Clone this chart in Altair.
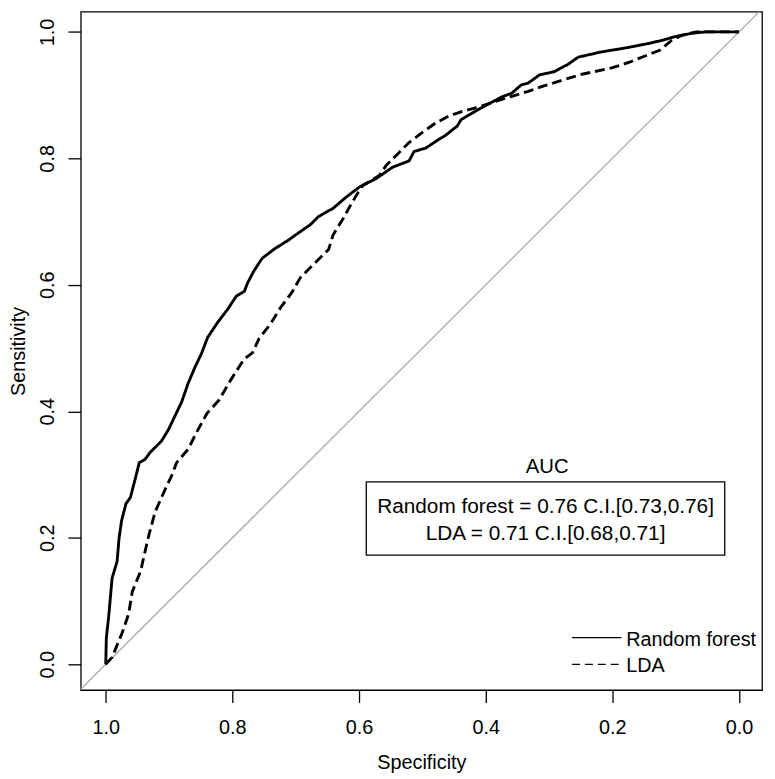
import altair as alt
import pandas as pd

FONT = "Liberation Sans"

# ---------------- data ----------------
models = ["Random forest", "LDA"]

rf_spec = [1.000, 0.999, 0.995, 0.990, 0.982, 0.979, 0.975, 0.968, 0.961, 0.953,
           0.947, 0.938, 0.930, 0.912, 0.901, 0.891, 0.880, 0.870, 0.859, 0.849,
           0.839, 0.823, 0.807, 0.794, 0.781, 0.776, 0.766, 0.753, 0.732, 0.714,
           0.693, 0.677, 0.664, 0.641, 0.620, 0.599, 0.573, 0.547, 0.521, 0.513,
           0.495, 0.474, 0.464, 0.445, 0.439, 0.412, 0.375, 0.359, 0.344, 0.333,
           0.315, 0.292, 0.281, 0.271, 0.254, 0.219, 0.177, 0.141, 0.120, 0.099,
           0.073, 0.052, 0.000]
rf_sens = [0.000, 0.042, 0.079, 0.136, 0.163, 0.199, 0.227, 0.254, 0.264, 0.295,
           0.319, 0.324, 0.335, 0.353, 0.371, 0.392, 0.415, 0.444, 0.470, 0.491,
           0.517, 0.541, 0.562, 0.582, 0.590, 0.603, 0.622, 0.642, 0.658, 0.669,
           0.684, 0.695, 0.708, 0.721, 0.739, 0.755, 0.768, 0.786, 0.796, 0.811,
           0.816, 0.830, 0.836, 0.851, 0.861, 0.877, 0.897, 0.903, 0.916, 0.919,
           0.932, 0.937, 0.943, 0.948, 0.960, 0.968, 0.975, 0.982, 0.987, 0.993,
           0.998, 1.000, 1.000]

lda_spec = [1.000, 0.990, 0.974, 0.964, 0.958, 0.945, 0.938, 0.932, 0.922, 0.906,
            0.896, 0.888, 0.870, 0.857, 0.840, 0.821, 0.803, 0.782, 0.768, 0.758,
            0.740, 0.724, 0.706, 0.693, 0.672, 0.648, 0.641, 0.625, 0.615, 0.604,
            0.594, 0.568, 0.557, 0.537, 0.521, 0.500, 0.479, 0.458, 0.438, 0.412,
            0.385, 0.359, 0.333, 0.307, 0.281, 0.248, 0.229, 0.201, 0.173, 0.143,
            0.125, 0.107, 0.089, 0.067, 0.000]
lda_sens = [0.000, 0.011, 0.050, 0.079, 0.115, 0.147, 0.178, 0.204, 0.241, 0.277,
            0.298, 0.319, 0.340, 0.366, 0.397, 0.418, 0.449, 0.482, 0.493, 0.515,
            0.538, 0.564, 0.588, 0.611, 0.632, 0.656, 0.679, 0.705, 0.723, 0.742,
            0.757, 0.773, 0.789, 0.809, 0.825, 0.841, 0.856, 0.867, 0.874, 0.881,
            0.890, 0.898, 0.906, 0.915, 0.923, 0.933, 0.937, 0.943, 0.952, 0.964,
            0.971, 0.986, 0.995, 1.000, 1.000]

auc_title = "AUC"
auc_lines = ["Random forest = 0.76 C.I.[0.73,0.76]", "LDA = 0.71 C.I.[0.68,0.71]"]

tick_values = [0.0, 0.2, 0.4, 0.6, 0.8, 1.0]

# ---------------- layout constants (data units) ----------------
X_DOMAIN = [-0.0364, 1.0394]
Y_DOMAIN = [-0.0407, 1.0318]
W, H = 688, 685

# ---------------- tables ----------------
rows = []
for m, sp, se in [(models[0], rf_spec, rf_sens), (models[1], lda_spec, lda_sens)]:
    for i, (a, b) in enumerate(zip(sp, se)):
        rows.append({"model": m, "spec": a, "sens": b, "i": i})
curves = pd.DataFrame(rows)

diag = pd.DataFrame({"spec": [1.06, -0.06]})
diag["sens"] = 1 - diag["spec"]

auc_head = pd.DataFrame({"label": [auc_title], "spec": [0.303], "sens": [0.312]})
auc_text = pd.DataFrame({"label": auc_lines, "spec": [0.3055, 0.3055], "sens": [0.249, 0.206]})
auc_box = pd.DataFrame({"s1": [0.5886], "s2": [0.0225], "y1": [0.1727], "y2": [0.2886]})

leg = pd.DataFrame({"model": models, "a": [0.2636, 0.2636], "b": [0.1855, 0.1855],
                    "sens": [0.0423, 0.0], "lx": [0.1781, 0.1781], "ly": [0.039, -0.002]})

xs = alt.Scale(domain=X_DOMAIN, reverse=True, nice=False, zero=False)
ys = alt.Scale(domain=Y_DOMAIN, nice=False, zero=False)

xaxis = alt.Axis(values=tick_values, format=".1f", title="Specificity", grid=False,
                 domain=False, ticks=True, tickColor="black", tickWidth=1.3, tickSize=12.5,
                 labelFont=FONT, labelFontSize=20, labelColor="black",
                 labelBaseline="alphabetic", labelAlign="center", labelPadding=31,
                 labelFlush=False, labelOverlap=False,
                 titleFont=FONT, titleFontSize=20, titleColor="black", titleFontWeight="normal",
                 titleX=W / 2, titleY=79, titleBaseline="alphabetic", titleAlign="center")
yaxis = alt.Axis(values=tick_values, format=".1f", title="Sensitivity", grid=False,
                 domain=False, ticks=True, tickColor="black", tickWidth=1.3, tickSize=13,
                 labelFont=FONT, labelFontSize=20, labelColor="black",
                 labelAngle=-90, labelAlign="center", labelBaseline="alphabetic",
                 labelPadding=15, labelFlush=False, labelOverlap=False,
                 titleFont=FONT, titleFontSize=20, titleColor="black", titleFontWeight="normal",
                 titleAngle=-90, titleX=-57, titleY=H / 2, titleBaseline="alphabetic",
                 titleAlign="center")

dash_scale = alt.Scale(domain=models, range=[[1, 0], [10, 5]])

diag_layer = alt.Chart(diag).mark_line(color="#a9a9a9", strokeWidth=1.3, clip=True).encode(
    x=alt.X("spec:Q", scale=xs, axis=xaxis),
    y=alt.Y("sens:Q", scale=ys, axis=yaxis),
)

curve_layer = alt.Chart(curves).mark_line(color="black", strokeWidth=2.9,
                                          strokeJoin="round").encode(
    x=alt.X("spec:Q", scale=xs),
    y=alt.Y("sens:Q", scale=ys),
    order="i:Q",
    detail="model:N",
    strokeDash=alt.StrokeDash("model:N", scale=dash_scale, legend=None),
)

box_layer = alt.Chart(auc_box).mark_rect(fillOpacity=0, stroke="black", strokeWidth=1.3).encode(
    x="s1:Q", x2="s2", y="y1:Q", y2="y2"
)

head_layer = alt.Chart(auc_head).mark_text(font=FONT, fontSize=20.5, color="black",
                                           align="center", baseline="middle").encode(
    x="spec:Q", y="sens:Q", text="label:N")

text_layer = alt.Chart(auc_text).mark_text(font=FONT, fontSize=21, color="black",
                                           align="center", baseline="middle").encode(
    x="spec:Q", y="sens:Q", text="label:N")

leg_solid = alt.Chart(leg).transform_filter(alt.datum.model == models[0]).mark_rule(
    color="black", strokeWidth=1.3).encode(x="a:Q", x2="b", y="sens:Q")
leg_dash = alt.Chart(leg).transform_filter(alt.datum.model == models[1]).mark_rule(
    color="black", strokeWidth=1.3, strokeDash=[8, 5]).encode(x="a:Q", x2="b", y="sens:Q")
leg_text = alt.Chart(leg).mark_text(font=FONT, fontSize=20, color="black",
                                    align="left", baseline="middle").encode(
    x="lx:Q", y="ly:Q", text="model:N")

chart = alt.layer(diag_layer, curve_layer, box_layer, head_layer, text_layer,
                  leg_solid, leg_dash, leg_text).properties(
    width=W, height=H,
    autosize=alt.AutoSizeParams(type="none"),
    padding={"left": 73.5, "top": 0, "right": 5, "bottom": 85},
    background="white",
).configure_view(stroke="black", strokeWidth=1.3)

chart.save("out.html", embed_options={"renderer": "svg", "actions": False})
